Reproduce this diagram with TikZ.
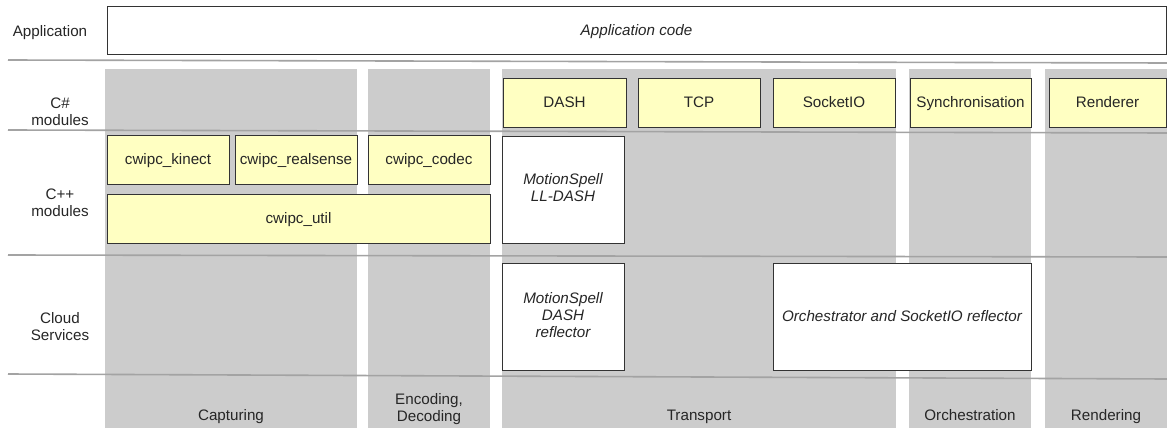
\documentclass[tikz,border=0pt]{standalone}
\usepackage{fontspec}
\setmainfont{Liberation Sans}
\definecolor{colgray}{HTML}{CCCCCC}
\definecolor{sepgray}{HTML}{A3A3A3}
\definecolor{boxyellow}{HTML}{FFFFC2}
\definecolor{boxline}{HTML}{333333}
\newcommand\mystrut{\rule[-3.3pt]{0pt}{17.5pt}}
\newcommand\myfont{\fontsize{15.2}{17}\selectfont\lineskiplimit=-20pt\relax}
\begin{document}
\begin{tikzpicture}[x=1pt,y=-1pt,
  every node/.style={font=\myfont, text=black!85,
    execute at begin node={\mystrut}, execute at end node={\mystrut}},
  ybox/.style={draw=boxline, line width=0.9pt, fill=boxyellow, inner sep=0pt, align=center},
  wbox/.style={draw=boxline, line width=0.9pt, fill=white, inner sep=0pt, align=center, font=\myfont\itshape},
  column/.style={fill=colgray, draw=none},
  sepline/.style={draw=sepgray, line width=1.6pt},
  rowlabel/.style={align=center, inner sep=0pt},
  collabel/.style={align=center, inner sep=0pt}]
\useasboundingbox (0,0) rectangle (1167,428);
% columns
\fill[column] (105,69) rectangle (357,428);
\fill[column] (368,69) rectangle (490,428);
\fill[column] (502,69) rectangle (896,428);
\fill[column] (909,69) rectangle (1031,428);
\fill[column] (1045,69) rectangle (1167,428);
% separator lines
\coordinate (s1a) at (8,60);   \coordinate (s1b) at (1167,63);
\coordinate (s2a) at (8,130);  \coordinate (s2b) at (1167,133);
\coordinate (s3a) at (8,255);  \coordinate (s3b) at (1167,257);
\coordinate (s4a) at (8,374);  \coordinate (s4b) at (1167,379);
\draw[sepline] (s1a) -- (s1b);
\draw[sepline] (s2a) -- (s2b);
\draw[sepline] (s3a) -- (s3b);
\draw[sepline] (s4a) -- (s4b);
% application
\node[wbox, minimum width=1059pt, minimum height=48pt] (app) at (636.5,30) {Application code};
% C# modules
\node[ybox, minimum width=123pt, minimum height=49pt] (dash) at (564.5,102.5) {DASH};
\node[ybox, minimum width=122pt, minimum height=49pt] (tcp) at (699,102.5) {TCP};
\node[ybox, minimum width=122pt, minimum height=49pt] (sio) at (834,102.5) {SocketIO};
\node[ybox, minimum width=121pt, minimum height=49pt] (sync) at (970.5,102.5) {Synchronisation};
\node[ybox, minimum width=117pt, minimum height=49pt] (rend) at (1107.5,102.5) {Renderer};
% C++ modules
\node[ybox, minimum width=122pt, minimum height=49pt] (kinect) at (168,159.5) {cwipc\_kinect};
\node[ybox, minimum width=122pt, minimum height=49pt] (realsense) at (296,159.5) {cwipc\_realsense};
\node[ybox, minimum width=122pt, minimum height=49pt] (codec) at (429,159.5) {cwipc\_codec};
\node[ybox, minimum width=383pt, minimum height=49pt] (util) at (298.5,218.5) {cwipc\_util};
\node[wbox, minimum width=122pt, minimum height=107pt] (lldash) at (563,189.5) {MotionSpell\\LL-DASH};
% cloud services
\node[wbox, minimum width=122pt, minimum height=107pt] (refl) at (563,316.5) {MotionSpell\\DASH\\reflector};
\node[wbox, minimum width=258pt, minimum height=107pt] (orch) at (902,316.5) {Orchestrator and SocketIO reflector};
% row labels
\node[rowlabel] (lapp) at (50,31) {Application};
\node[rowlabel] (lcs) at (60,113.5) {C\#\\modules};
\node[rowlabel] (lcpp) at (60,204) {C++\\modules};
\node[rowlabel] (lcloud) at (60,328.5) {Cloud\\Services};
% column labels
\node[collabel] (lcap) at (231,415.5) {Capturing};
\node[collabel] (lenc) at (429,409) {Encoding,\\Decoding};
\node[collabel] (ltrans) at (699,415.5) {Transport};
\node[collabel] (lorch) at (970,415.5) {Orchestration};
\node[collabel] (lrend) at (1106,415.5) {Rendering};
\end{tikzpicture}
\end{document}
